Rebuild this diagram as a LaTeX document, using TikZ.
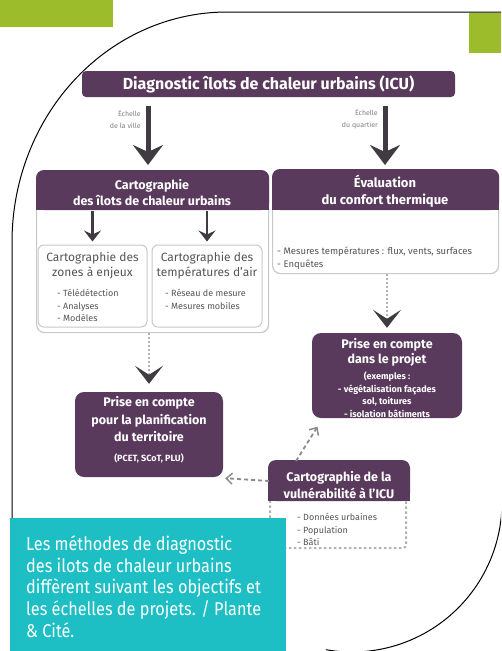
\documentclass[tikz,border=0pt]{standalone}
\usepackage{fontspec}
\setmainfont{Fira Sans}
\newfontfamily\capfont[FakeStretch=0.88]{Fira Sans}
\usetikzlibrary{arrows.meta}
\definecolor{plum}{HTML}{5A3A5C}
\definecolor{leaf}{HTML}{9CBC2B}
\definecolor{captealc}{HTML}{1DBFC4}
\definecolor{bordergrey}{HTML}{C9C9C9}
\definecolor{txtgrey}{HTML}{555555}
\definecolor{arrowdark}{HTML}{403A42}
\definecolor{dashgrey}{HTML}{8C8C8C}
\begin{document}
\begin{tikzpicture}[x=1pt,y=-1pt,
  frame/.style={draw=black,line width=1pt},
  panel/.style={draw=bordergrey,line width=1.2pt,fill=white,rounded corners=8pt,inner sep=0pt},
  subpanel/.style={draw=bordergrey,line width=1pt,fill=white,rounded corners=6pt,inner sep=0pt},
  plumbox/.style={fill=plum,rounded corners=9pt,inner sep=0pt},
  whitetxt/.style={text=white,align=center,inner sep=0pt},
  hdrtxt/.style={whitetxt,font=\bfseries\fontsize{12.5}{15.5}\selectfont},
  subtitle/.style={text=txtgrey,align=center,inner sep=0pt,font=\fontsize{12}{15.5}\selectfont},
  itemtxt/.style={text=txtgrey,align=left,anchor=west,inner sep=0pt,font=\fontsize{9}{12.5}\selectfont},
  scalelbl/.style={text=gray,align=right,anchor=east,inner sep=0pt,font=\fontsize{7}{12}\selectfont},
  bigarrow/.style={draw=arrowdark,line width=5pt,-{Stealth[length=20pt,width=30pt,inset=7pt]}},
  midarrow/.style={draw=arrowdark,line width=2.5pt,-{Stealth[length=11pt,width=17pt,inset=4pt]}},
  dotarrow/.style={draw=gray!60,line width=1.5pt,dash pattern=on 2pt off 2pt,-{Stealth[length=18pt,width=28pt,inset=9pt,color=arrowdark]}},
  greyarrow/.style={draw=dashgrey,line width=1.8pt,dash pattern=on 4pt off 3pt,-{Straight Barb[length=6pt,width=11pt,line width=1.5pt]}}
]
\useasboundingbox (0,0) rectangle (501,651);
\fill[white] (0,0) rectangle (501,651);
\clip (0,0) rectangle (501,651);

% green tabs
\fill[leaf] (0,0) rectangle (113,27);
\fill[leaf] (469,13) rectangle (501,53);

% frame
\draw[frame] (505,12) -- plot[domain=90:180,samples=60] ({227+215*cos(\x)},{242-230*sin(\x)}) -- (12,519);
\draw[frame] plot[domain=0:-100,samples=60] ({352+150*cos(\x)},{502-150*sin(\x)});

% title
\node[plumbox,rounded corners=4pt,minimum width=373pt,minimum height=26pt] (title) at (268.5,84) {};
\node[whitetxt,font=\bfseries\fontsize{16}{18}\selectfont] (titleT) at (268.5,84) {Diagnostic îlots de chaleur urbains (ICU)};

% scale labels
\node[scalelbl] (lv) at (141,119) {Échelle\\de la ville};
\node[scalelbl] (rv) at (378,119) {Échelle\\du quartier};

% left panel
\node[panel,minimum width=232pt,minimum height=162pt,anchor=north west] (carto) at (36,170) {};
\fill[plum,rounded corners=8pt] (carto.north west) rectangle ([yshift=-40pt]carto.north east);
\fill[plum] ([yshift=-25pt]carto.north west) rectangle ([yshift=-40pt]carto.north east);
\node[hdrtxt] (cartoT) at (152,192.5) {Cartographie\\des îlots de chaleur urbains};
\coordinate (cartoHs) at (152,211);

\node[subpanel,minimum width=109pt,minimum height=82pt] (zones) at (92.5,286) {};
\node[subpanel,minimum width=110pt,minimum height=82pt] (temps) at (207,286) {};
\node[subtitle] (zonesT) at (92.5,265.5) {Cartographie des\\zones à enjeux};
\node[subtitle] (tempsT) at (207,265.5) {Cartographie des\\températures d’air};
\node[itemtxt] (zonesI) at (57,305.5) {- Télédétection\\- Analyses\\- Modèles};
\node[itemtxt] (tempsI) at (165,299.5) {- Réseau de mesure\\- Mesures mobiles};

% right panel
\node[panel,minimum width=226pt,minimum height=104pt,anchor=north west] (eval) at (272,169) {};
\fill[plum,rounded corners=8pt] (eval.north west) rectangle ([yshift=-41pt]eval.north east);
\fill[plum] ([yshift=-25pt]eval.north west) rectangle ([yshift=-41pt]eval.north east);
\node[hdrtxt,font=\bfseries\fontsize{13}{17}\selectfont] (evalT) at (385,191.5) {Évaluation\\du confort thermique};
\node[itemtxt,font=\fontsize{9.5}{13}\selectfont] (evalI) at (277,258.5) {- Mesures températures : flux, vents, surfaces\\- Enquêtes};

% prise en compte boxes
\node[plumbox,minimum width=148pt,minimum height=85pt] (plan) at (149,434.5) {};
\node[hdrtxt,font=\bfseries\fontsize{12.5}{17.5}\selectfont] (planT) at (149,419.5) {Prise en compte\\pour la planification\\du territoire};
\node[whitetxt,font=\bfseries\fontsize{9}{10}\selectfont] (planR) at (149,458) {(PCET, SCoT, PLU)};

\node[plumbox,minimum width=150pt,minimum height=85pt] (projet) at (387,375.5) {};
\node[hdrtxt,font=\bfseries\fontsize{12.5}{15}\selectfont] (projetT) at (387,352.5) {Prise en compte\\dans le projet};
\node[whitetxt,font=\bfseries\fontsize{9}{12.5}\selectfont] (projetI) at (387,394.75) {(exemples :\\- végétalisation façades\\sol, toitures\\- isolation bâtiments};

% vulnerability
\node[draw=gray!60,line width=2pt,dash pattern=on 2.5pt off 2.5pt,fill=white,rounded corners=3pt,minimum width=136pt,minimum height=86pt,inner sep=0pt] (vuln) at (338,505) {};
\fill[plum,rounded corners=8pt] ([xshift=-1pt,yshift=1pt]vuln.north west) rectangle ([xshift=3pt,yshift=-40pt]vuln.north east);
\fill[plum] ([xshift=-1pt,yshift=-25pt]vuln.north west) rectangle ([xshift=3pt,yshift=-40pt]vuln.north east);
\node[hdrtxt,font=\bfseries\fontsize{12.5}{17}\selectfont] (vulnT) at (339,485.5) {Cartographie de la\\vulnérabilité à l’ICU};
\node[itemtxt] (vulnI) at (297,529.5) {- Données urbaines\\- Population\\- Bâti};

% arrows
\coordinate (a1s) at (148,106);
\coordinate (a1e) at (148,165);
\coordinate (a2s) at (385,106);
\coordinate (a2e) at (385,165);
\draw[bigarrow] (a1s) -- (a1e);
\draw[bigarrow] (a2s) -- (a2e);
\draw[midarrow] (cartoHs -| zones.north) -- ([yshift=3pt]zones.north);
\draw[midarrow] (cartoHs -| temps.north) -- ([yshift=3pt]temps.north);
\draw[dotarrow] (carto.south -| plan.north) -- ([yshift=8pt]plan.north);
\draw[dotarrow] (eval.south -| projet.north) -- ([yshift=5pt]projet.north);
\draw[greyarrow] ([yshift=-20pt]vuln.north west) -- ([xshift=2pt,yshift=-1pt]plan.south east);
\draw[greyarrow,shorten >=10pt] ([xshift=27pt]vuln.north west) -- ([xshift=11pt]projet.south west);

% caption
\node[fill=captealc,minimum width=276pt,minimum height=133pt,anchor=north west,inner sep=0pt] (capbox) at (10,518) {};
\node[text=white,align=left,anchor=west,inner sep=0pt,font=\capfont\fontsize{18.5}{21.75}\selectfont] (cap) at (26,586.5) {Les méthodes de diagnostic\\des ilots de chaleur urbains\\diffèrent suivant les objectifs et\\les échelles de projets. / Plante\\\& Cité.};
\end{tikzpicture}
\end{document}
